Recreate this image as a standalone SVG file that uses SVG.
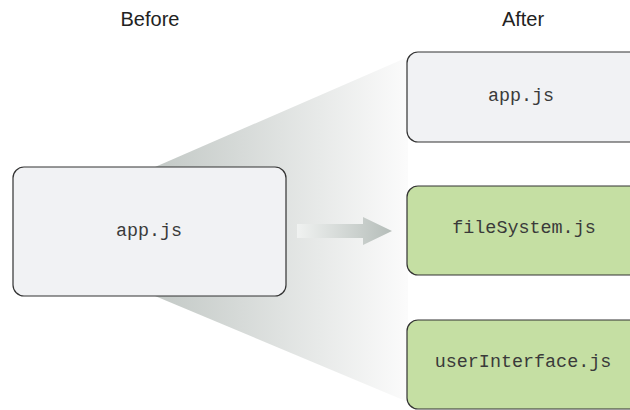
<svg xmlns="http://www.w3.org/2000/svg" width="630" height="410" viewBox="0 0 630 410">
  <style>
    .head { font-family: "Liberation Sans", Arial, sans-serif; font-size: 20px; fill: #222; text-anchor: middle; }
    .code { font-family: "Liberation Mono", "Courier New", monospace; font-size: 18.4px; fill: #3a3a3a; text-anchor: middle; dominant-baseline: central; }
    .box { stroke: #333; stroke-width: 1.2; }
    .gray { fill: #f1f2f4; }
    .green { fill: #c5dfa3; }
  </style>
  <defs>
    <linearGradient id="funnel" gradientUnits="userSpaceOnUse" x1="155" y1="0" x2="407" y2="0">
      <stop offset="0" stop-color="#c3c9c6"/>
      <stop offset="1" stop-color="#fbfbfb"/>
    </linearGradient>
    <linearGradient id="arrowFill" gradientUnits="userSpaceOnUse" x1="297" y1="0" x2="392" y2="0">
      <stop offset="0" stop-color="#f0f2f1"/>
      <stop offset="1" stop-color="#b5bdb9"/>
    </linearGradient>
  </defs>

  <rect width="630" height="410" fill="#ffffff"/>

  <text class="head" x="150" y="26">Before</text>
  <text class="head" x="523" y="26">After</text>

  <!-- spreading shadow from the single file to the split files -->
  <polygon points="155,167 408,57 408,402 155,296" fill="url(#funnel)"/>

  <g id="connectors">
    <polygon points="297,224 363,224 363,217 392,231 363,245 363,238 297,238" fill="url(#arrowFill)"/>
  </g>

  <g id="before-app">
    <rect class="box gray" x="13" y="167" width="273" height="129" rx="11"/>
    <text class="code" x="149" y="231">app.js</text>
  </g>

  <g id="after-app">
    <rect class="box gray" x="407" y="52" width="240" height="90" rx="11"/>
    <text class="code" x="521" y="96">app.js</text>
  </g>

  <g id="after-filesystem">
    <rect class="box green" x="407" y="186" width="240" height="89" rx="11"/>
    <text class="code" x="524" y="228">fileSystem.js</text>
  </g>

  <g id="after-userinterface">
    <rect class="box green" x="407" y="320" width="240" height="89" rx="11"/>
    <text class="code" x="523" y="362">userInterface.js</text>
  </g>
</svg>
